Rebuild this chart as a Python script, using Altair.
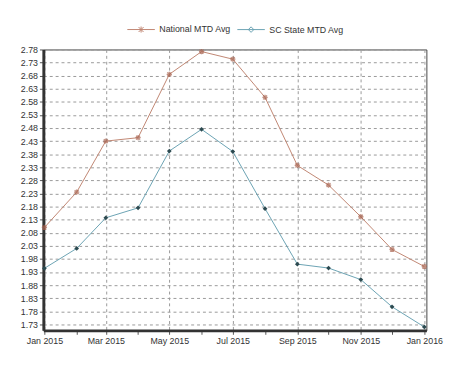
import altair as alt
import pandas as pd

months = ["2015-01-01", "2015-02-01", "2015-03-01", "2015-04-01", "2015-05-01",
          "2015-06-01", "2015-07-01", "2015-08-01", "2015-09-01", "2015-10-01",
          "2015-11-01", "2015-12-01", "2016-01-01"]
national = [2.10, 2.235, 2.43, 2.443, 2.685, 2.772, 2.743, 2.597, 2.337, 2.262, 2.141, 2.016, 1.951]
sc_state = [1.944, 2.02, 2.137, 2.175, 2.392, 2.475, 2.39, 2.172, 1.96, 1.945, 1.901, 1.797, 1.72]
series_names = ["National MTD Avg", "SC State MTD Avg"]
y_ticks = [round(1.73 + 0.05 * i, 2) for i in range(22)]

line_colors = ["#c08672", "#6aa2b2"]
marker_colors = ["#a8624e", "#2c4a50"]

rows = []
for d, v in zip(months, national):
    rows.append({"date": d, "series": series_names[0], "value": v})
for d, v in zip(months, sc_state):
    rows.append({"date": d, "series": series_names[1], "value": v})
df = pd.DataFrame(rows)

font = "Liberation Sans"

x_enc = alt.X(
    "date:T",
    scale=alt.Scale(type="utc", domain=["2014-12-31", "2016-01-03"]),
    axis=alt.Axis(
        title=None,
        values=months,
        labelExpr="utcmonth(datum.value) % 2 == 0 ? utcFormat(datum.value, '%b %Y') : ''",
        gridOpacity={"condition": {"test": "utcmonth(datum.value) % 2 == 0", "value": 1}, "value": 0},
        labelFlush=False,
    ),
)
y_enc = alt.Y(
    "value:Q",
    scale=alt.Scale(domain=[1.707, 2.78], nice=False, zero=False),
    axis=alt.Axis(title=None, values=y_ticks, format=".2f"),
)

star_path = "M-0.6,-0.6L0.6,0.6M-0.6,0.6L0.6,-0.6M0,-0.8V0.8M-0.8,0H0.8"
diamond_path = "M0,-0.8L0.8,0L0,0.8L-0.8,0Z"

layers = []
for i, name in enumerate(series_names):
    base = alt.Chart(df).transform_filter(alt.datum.series == name)
    layers.append(base.mark_line(strokeWidth=1, color=line_colors[i]).encode(x=x_enc, y=y_enc))

layers.append(
    alt.Chart(df).transform_filter(alt.datum.series == series_names[0])
    .mark_point(shape=star_path, filled=False, size=45, strokeWidth=1.3, color=marker_colors[0])
    .encode(x=x_enc, y=y_enc)
)
layers.append(
    alt.Chart(df).transform_filter(alt.datum.series == series_names[1])
    .mark_point(shape=diamond_path, filled=True, size=36, color=marker_colors[1], opacity=1)
    .encode(x=x_enc, y=y_enc)
)

leg_star = "M-1,0H1M-0.18,-0.18L0.18,0.18M-0.18,0.18L0.18,-0.18M0,-0.22V0.22"
leg_diamond = "M-1,0H1M0,-0.2L0.2,0L0,0.2L-0.2,0Z"
layers.append(
    alt.Chart(df).mark_point(opacity=0, filled=False).encode(
        x=x_enc, y=y_enc,
        color=alt.Color(
            "series:N",
            scale=alt.Scale(domain=series_names, range=line_colors),
            legend=alt.Legend(
                title=None, orient="none", direction="horizontal",
                legendX=85, legendY=-35,
                symbolOpacity=1, symbolSize=784, symbolStrokeWidth=1,
                symbolFillColor=marker_colors[1],
                labelFont=font, labelFontSize=9, labelColor="#333",
                columnPadding=4, labelOffset=4,
            ),
        ),
        shape=alt.Shape("series:N", title=None,
                        scale=alt.Scale(domain=series_names, range=[leg_star, leg_diamond])),
    )
)

chart = alt.layer(*layers).properties(
    width=390, height=286,
    background="white",
    autosize=alt.AutoSizeParams(type="none"),
    padding={"left": 36, "top": 39, "right": 22, "bottom": 30},
).configure_view(
    stroke="#444", strokeWidth=1,
).configure_axis(
    labelFont=font, labelFontSize=9, labelColor="#333",
    domainColor="#333", domainWidth=3,
    tickColor="#555", tickSize=4,
    gridColor="#999", gridDash=[3, 3], gridWidth=1,
)

chart.save("out.html", embed_options={"renderer": "svg", "actions": False})
